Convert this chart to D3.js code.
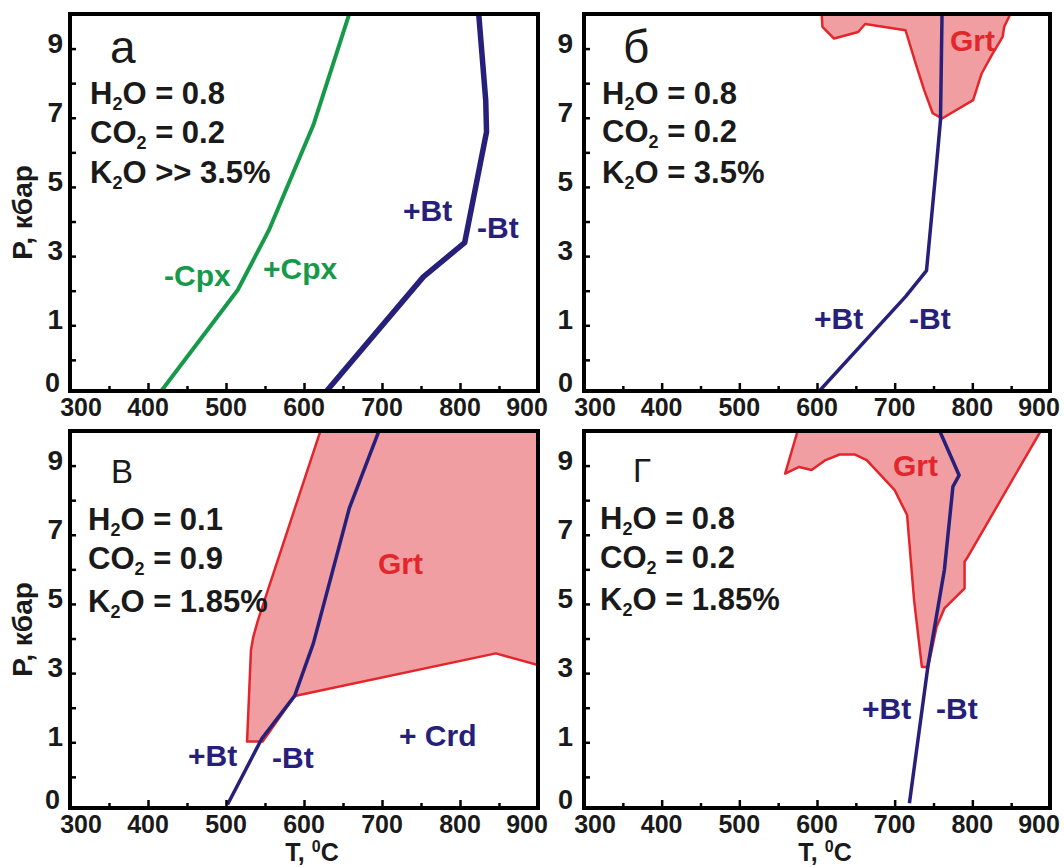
<!DOCTYPE html>
<html>
<head>
<meta charset="utf-8">
<script src="https://cdn.jsdelivr.net/npm/d3@7"></script>
<style>
  body { margin: 0; background: #fff; }
  svg { display: block; }
  text { font-family: "Liberation Sans", Arial, sans-serif; }
</style>
</head>
<body>
<svg id="chart" width="1064" height="867"></svg>
<script>
// axis ticks (T in degC, P in kbar)
const tempMajor = [300, 400, 500, 600, 700, 800, 900];
const tempMinor = [350, 450, 550, 650, 750, 850];
const presMajor = [1, 3, 5, 7, 9];
const presMinor = [0, 2, 4, 6, 8];
const presFloor = -0.9;   // lower frame edge, labelled "0" in the original
const presTop = 10;

// panel а
const aCpx = [[417, -0.9], [515, 2.02], [555, 3.75], [612, 6.79], [658, 10]];
const aBt = [[629, -0.9], [753, 2.4], [806, 3.39], [834, 6.59], [833, 7.5], [824, 10]];

// panel б
const bBt = [[603, -0.9], [714, 1.83], [741, 2.58], [754, 5.68], [759, 6.93], [761, 10]];
const bGrt = [[606, 10], [607, 9.63], [622, 9.29], [653, 9.48], [662, 9.71], [714, 9.53],
  [727, 8.57], [738, 7.8], [749, 7.13], [761, 6.98], [801, 7.51], [812, 8.28],
  [825, 8.81], [839, 9.34], [841, 9.63], [849, 10]];

// panel в
const cBt = [[502, -0.8], [546, 1.11], [588, 2.34], [612, 3.86], [658, 7.76], [696, 10]];
const cGrt = [[621, 10], [541, 4.53], [535, 4.05], [532, 3.67], [527, 1.02], [547, 1.02],
  [588, 2.34], [846, 3.57], [900, 3.23], [900, 10]];

// panel г
const dBt = [[719, -0.76], [743, 3.23], [764, 5.98], [775, 8.39], [783, 8.72], [758, 10]];
const dGrt = [[575, 10], [559, 8.77], [577, 8.96], [593, 8.87], [611, 9.16], [629, 9.32],
  [649, 9.32], [664, 9.16], [700, 8.29], [716, 7.57], [725, 5.11], [735, 3.18],
  [743, 3.18], [754, 4.34], [764, 4.87], [790, 5.45], [790, 6.22], [793, 6.32], [888, 10]];

const blue = "#27207a";
const green = "#17994a";
const red = "#e3262b";
const pink = "#f09ea2";
const ink = "#1a1a1a";

const panels = [
  { id: "a", x0: 70, x1: 538, y0: 14, y1: 391, letter: "а", letterPos: [110, 63], letterSize: 46,
    conds: [["H", "2", "O = 0.8"], ["CO", "2", " = 0.2"], ["K", "2", "O >> 3.5%"]], condPos: [90, 104, 143, 183],
    lines: [{ data: aCpx, color: green, w: 4 }, { data: aBt, color: blue, w: 5.5 }], polys: [],
    labels: [{ t: "+Bt", x: 403, y: 221, c: blue }, { t: "-Bt", x: 477, y: 238, c: blue },
      { t: "-Cpx", x: 164, y: 286, c: green }, { t: "+Cpx", x: 263, y: 279, c: green }],
    yTitle: true, xTitle: false, yGap: 7 },
  { id: "b", x0: 584, x1: 1050, y0: 14, y1: 391, letter: "б", letterPos: [623, 63], letterSize: 46,
    conds: [["H", "2", "O = 0.8"], ["CO", "2", " = 0.2"], ["K", "2", "O = 3.5%"]], condPos: [602, 104, 142, 183],
    lines: [{ data: bBt, color: blue, w: 3.5 }], polys: [bGrt],
    labels: [{ t: "Grt", x: 950, y: 51, c: red }, { t: "+Bt", x: 814, y: 329, c: blue }, { t: "-Bt", x: 909, y: 329, c: blue }],
    yTitle: false, xTitle: false, yGap: 11 },
  { id: "c", x0: 70, x1: 538, y0: 431, y1: 808, letter: "В", letterPos: [111, 483], letterSize: 33,
    conds: [["H", "2", "O = 0.1"], ["CO", "2", " = 0.9"], ["K", "2", "O = 1.85%"]], condPos: [88, 530, 569, 612],
    lines: [{ data: cBt, color: blue, w: 3.5 }], polys: [cGrt],
    labels: [{ t: "Grt", x: 378, y: 574, c: red }, { t: "+Bt", x: 188, y: 766, c: blue },
      { t: "-Bt", x: 272, y: 768, c: blue }, { t: "+ Crd", x: 399, y: 746, c: blue }],
    yTitle: true, xTitle: true, yGap: 7 },
  { id: "d", x0: 584, x1: 1050, y0: 431, y1: 808, letter: "Г", letterPos: [633, 482], letterSize: 33,
    conds: [["H", "2", "O = 0.8"], ["CO", "2", " = 0.2"], ["K", "2", "O = 1.85%"]], condPos: [600, 529, 568, 610],
    lines: [{ data: dBt, color: blue, w: 3.5 }], polys: [dGrt],
    labels: [{ t: "Grt", x: 893, y: 476, c: red }, { t: "+Bt", x: 862, y: 719, c: blue }, { t: "-Bt", x: 936, y: 719, c: blue }],
    yTitle: false, xTitle: true, yGap: 11 }
];

const svg = d3.select("#chart");

function drawPanel(p) {
  const x = d3.scaleLinear().domain([300, 900]).range([p.x0, p.x1]);
  const y = d3.scaleLinear().domain([presFloor, presTop]).range([p.y1, p.y0]);
  const g = svg.append("g").attr("class", "panel-" + p.id);

  g.append("clipPath").attr("id", "clip-" + p.id)
    .append("rect").attr("x", p.x0).attr("y", p.y0)
    .attr("width", p.x1 - p.x0).attr("height", p.y1 - p.y0);

  const plot = g.append("g").attr("clip-path", `url(#clip-${p.id})`);
  const line = d3.line().x(d => x(d[0])).y(d => y(d[1]));

  p.polys.forEach(poly => {
    plot.append("path")
      .attr("d", line(poly) + "Z")
      .attr("fill", pink)
      .attr("stroke", red)
      .attr("stroke-width", 2.5)
      .attr("stroke-linejoin", "round");
  });

  p.lines.forEach(l => {
    plot.append("path")
      .attr("d", line(l.data))
      .attr("fill", "none")
      .attr("stroke", l.color)
      .attr("stroke-width", l.w)
      .attr("stroke-linejoin", "round");
  });

  // frame
  g.append("rect")
    .attr("x", p.x0).attr("y", p.y0)
    .attr("width", p.x1 - p.x0).attr("height", p.y1 - p.y0)
    .attr("fill", "none").attr("stroke", "#000").attr("stroke-width", 4);

  // inward ticks
  const noDomain = s => { s.select(".domain").remove(); s.selectAll("line").attr("stroke-width", 2.5); };
  g.append("g").attr("transform", `translate(0,${p.y1})`)
    .call(d3.axisBottom(x).tickValues(tempMajor.slice(1, -1)).tickSize(-8).tickFormat(""))
    .call(noDomain);
  g.append("g").attr("transform", `translate(0,${p.y1})`)
    .call(d3.axisBottom(x).tickValues(tempMinor).tickSize(-5).tickFormat(""))
    .call(noDomain);
  g.append("g").attr("transform", `translate(${p.x0},0)`)
    .call(d3.axisLeft(y).tickValues(presMajor.concat(presMinor)).tickSize(-6).tickFormat(""))
    .call(noDomain);

  // tick labels
  g.selectAll("text.xlab").data(tempMajor).enter().append("text")
    .attr("class", "xlab")
    .attr("x", (d, i) => x(d) + (i === 0 ? 11 : i === tempMajor.length - 1 ? -11 : 0))
    .attr("y", p.y1 + 25)
    .attr("text-anchor", "middle")
    .attr("font-size", 25).attr("font-weight", "bold").attr("fill", ink)
    .text(d => d);

  g.selectAll("text.ylab").data(presMajor).enter().append("text")
    .attr("class", "ylab")
    .attr("x", p.x0 - p.yGap)
    .attr("y", d => y(d) + 4)
    .attr("text-anchor", "end")
    .attr("font-size", 28).attr("font-weight", "bold").attr("fill", ink)
    .text(d => d);
  g.append("text")
    .attr("x", p.x0 - Math.max(p.yGap, 10)).attr("y", p.y1 + 1)
    .attr("text-anchor", "end")
    .attr("font-size", 27).attr("font-weight", "bold").attr("fill", ink)
    .text("0");

  // panel letter
  g.append("text")
    .attr("x", p.letterPos[0]).attr("y", p.letterPos[1])
    .attr("font-size", p.letterSize).attr("fill", ink)
    .text(p.letter);

  // composition lines with subscripts
  p.conds.forEach((c, i) => {
    const t = g.append("text")
      .attr("x", p.condPos[0]).attr("y", p.condPos[i + 1])
      .attr("font-size", 31).attr("font-weight", "bold").attr("fill", ink);
    t.append("tspan").text(c[0]);
    t.append("tspan").attr("font-size", 18).attr("dy", 6).text(c[1]);
    t.append("tspan").attr("dy", -6).text(c[2]);
  });

  // curve labels
  p.labels.forEach(l => {
    g.append("text")
      .attr("x", l.x).attr("y", l.y)
      .attr("font-size", 30).attr("font-weight", "bold").attr("fill", l.c)
      .text(l.t);
  });

  if (p.yTitle) {
    g.append("text")
      .attr("transform", `translate(32,${(p.y0 + p.y1) / 2 + 10}) rotate(-90)`)
      .attr("text-anchor", "middle")
      .attr("font-size", 28).attr("font-weight", "bold").attr("fill", ink)
      .text("P, кбар");
  }
  if (p.xTitle) {
    const t = g.append("text")
      .attr("x", (p.x0 + p.x1) / 2 + 8).attr("y", 861)
      .attr("text-anchor", "middle")
      .attr("font-size", 25).attr("font-weight", "bold").attr("fill", ink);
    t.append("tspan").text("T, ");
    t.append("tspan").attr("font-size", 16).attr("dy", -9).text("0");
    t.append("tspan").attr("dy", 9).text("C");
  }
}

panels.forEach(drawPanel);
</script>
</body>
</html>
